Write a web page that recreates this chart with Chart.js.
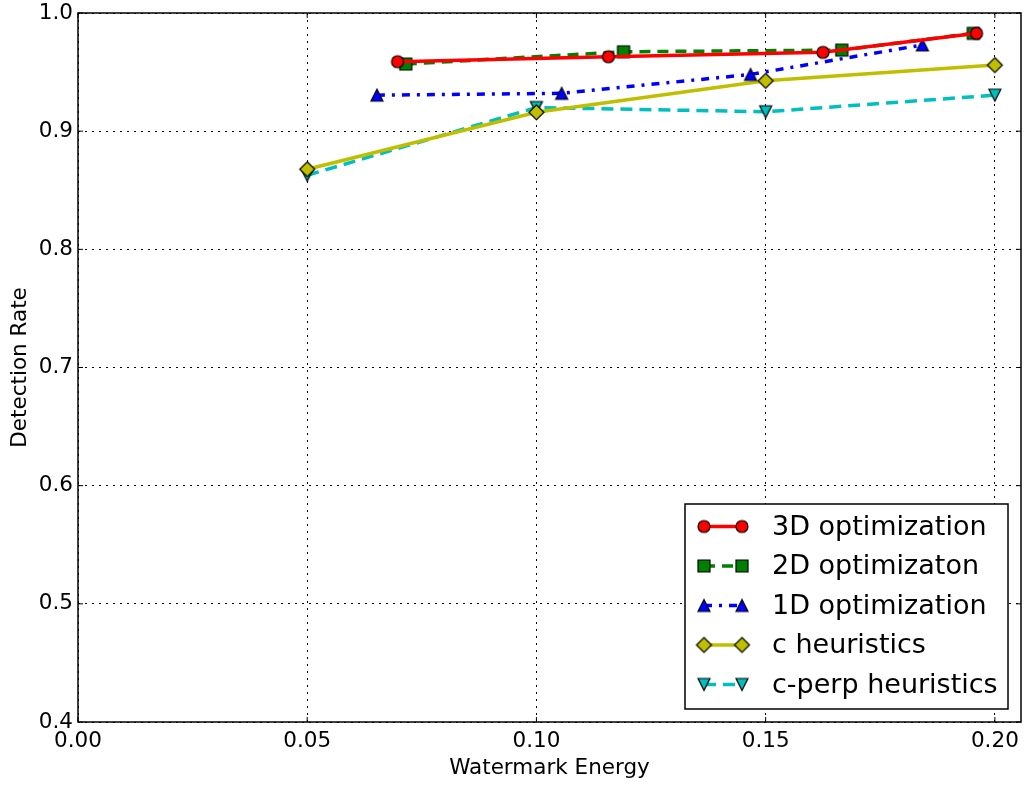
<!DOCTYPE html>
<html>
<head>
<meta charset="utf-8">
<title>Detection Rate vs Watermark Energy</title>
<script src="https://cdn.jsdelivr.net/npm/chart.js@4/dist/chart.umd.min.js"></script>
<style>
  html, body { margin: 0; padding: 0; background: #fff; }
  canvas { display: block; }
</style>
</head>
<body>
<canvas id="detectionChart" width="1027" height="785"></canvas>
<script>
// values
const energy3D = [0.0697, 0.1157, 0.1625, 0.1960];
const rate3D   = [0.9588, 0.9630, 0.9667, 0.9828];
const energy2D = [0.0715, 0.1190, 0.1666, 0.1953];
const rate2D   = [0.9568, 0.9672, 0.9686, 0.9828];
const energy1D = [0.0652, 0.1055, 0.1467, 0.1842];
const rate1D   = [0.9305, 0.9320, 0.9480, 0.9730];
const energyC  = [0.05, 0.10, 0.15, 0.20];
const rateC    = [0.8678, 0.9160, 0.9426, 0.9559];
const energyCP = [0.05, 0.10, 0.15, 0.20];
const rateCP   = [0.8627, 0.9200, 0.9164, 0.9305];

const seriesNames = ["3D optimization", "2D optimizaton", "1D optimization", "c heuristics", "c-perp heuristics"];
const xTicks = [0, 0.05, 0.10, 0.15, 0.20];
const yTicks = [0.4, 0.5, 0.6, 0.7, 0.8, 0.9, 1.0];

function pairs(xs, ys) {
  return xs.map(function (x, i) { return { x: x, y: ys[i] }; });
}

// matplotlib-like marker sprites
function makeMarker(shape, fill, size) {
  const c = document.createElement("canvas");
  c.width = size + 4;
  c.height = size + 4;
  const g = c.getContext("2d");
  const m = c.width / 2, h = size / 2;
  g.beginPath();
  if (shape === "circle") {
    g.arc(m, m, h, 0, Math.PI * 2);
  } else if (shape === "square") {
    g.rect(m - h, m - h, size, size);
  } else if (shape === "up") {
    g.moveTo(m, m - h); g.lineTo(m + h, m + h); g.lineTo(m - h, m + h); g.closePath();
  } else if (shape === "down") {
    g.moveTo(m, m + h); g.lineTo(m + h, m - h); g.lineTo(m - h, m - h); g.closePath();
  } else if (shape === "diamond") {
    g.moveTo(m, m - h); g.lineTo(m + h, m); g.lineTo(m, m + h); g.lineTo(m - h, m); g.closePath();
  }
  g.fillStyle = fill;
  g.fill();
  g.lineWidth = 1.2;
  g.strokeStyle = "#000";
  g.stroke();
  return c;
}

const markers = [
  makeMarker("circle", "#ff0000", 12),
  makeMarker("square", "#008000", 12),
  makeMarker("up", "#0000ff", 12),
  makeMarker("diamond", "#bfbf00", 15),
  makeMarker("down", "#00bfbf", 12)
];

// frame, inward ticks and the legend box
const framePlugin = {
  id: "frame",
  afterDraw: function (chart) {
    const c = chart.ctx;
    const a = chart.chartArea;
    const xs = chart.scales.x, ys = chart.scales.y;
    c.save();
    c.strokeStyle = "#000";
    c.lineWidth = 1;
    c.setLineDash([]);
    c.beginPath();
    xTicks.forEach(function (v) {
      const px = xs.getPixelForValue(v);
      c.moveTo(px, a.bottom); c.lineTo(px, a.bottom - 5);
      c.moveTo(px, a.top); c.lineTo(px, a.top + 5);
    });
    yTicks.forEach(function (v) {
      const py = ys.getPixelForValue(v);
      c.moveTo(a.left, py); c.lineTo(a.left + 5, py);
      c.moveTo(a.right, py); c.lineTo(a.right - 5, py);
    });
    c.stroke();
    c.lineWidth = 1.5;
    c.strokeRect(a.left, a.top, a.right - a.left, a.bottom - a.top);

    // legend
    const bw = 323, bh = 205;
    const bx = a.right - 13 - bw, by = a.bottom - 13 - bh;
    c.fillStyle = "#fff";
    c.fillRect(bx, by, bw, bh);
    c.lineWidth = 1.5;
    c.strokeRect(bx, by, bw, bh);
    c.font = "27px 'DejaVu Sans'";
    c.textBaseline = "middle";
    c.textAlign = "left";
    chart.data.datasets.forEach(function (ds, i) {
      const ry = by + 22.5 + i * 39.5;
      const x1 = bx + 19, x2 = bx + 57;
      c.beginPath();
      c.strokeStyle = ds.borderColor;
      c.lineWidth = ds.borderWidth;
      c.setLineDash(ds.borderDash || []);
      c.moveTo(x1, ry); c.lineTo(x2, ry);
      c.stroke();
      c.setLineDash([]);
      const img = markers[i];
      c.drawImage(img, x1 - img.width / 2, ry - img.height / 2);
      c.drawImage(img, x2 - img.width / 2, ry - img.height / 2);
      c.fillStyle = "#000";
      c.fillText(ds.label, bx + 87, ry + 1);
    });
    c.restore();
  }
};

document.addEventListener("DOMContentLoaded", function () {
  const ctx = document.getElementById("detectionChart");

  const lineSet = function (i, xs, ys, color, dash) {
    return {
      label: seriesNames[i],
      data: pairs(xs, ys),
      borderColor: color,
      backgroundColor: color,
      borderWidth: 3.5,
      borderDash: dash,
      borderCapStyle: "butt",
      pointStyle: markers[i],
      pointRadius: 6,
      fill: false,
      tension: 0
    };
  };

  new Chart(ctx, {
    type: "line",
    data: {
      datasets: [
        lineSet(0, energy3D, rate3D, "#ff0000", []),
        lineSet(1, energy2D, rate2D, "#008000", [11, 7]),
        lineSet(2, energy1D, rate1D, "#0000ff", [8, 7, 3, 7]),
        lineSet(3, energyC, rateC, "#bfbf00", []),
        lineSet(4, energyCP, rateCP, "#00bfbf", [12, 7])
      ]
    },
    options: {
      responsive: false,
      animation: false,
      devicePixelRatio: 1,
      layout: { autoPadding: false, padding: { top: 13, right: 6, left: 0, bottom: 0 } },
      plugins: {
        legend: { display: false },
        tooltip: { enabled: false }
      },
      scales: {
        x: {
          type: "linear",
          min: 0,
          max: 0.2057,
          afterBuildTicks: function (s) { s.ticks = xTicks.map(function (v) { return { value: v }; }); },
          afterFit: function (s) { s.height = 63; s.paddingLeft = 0; s.paddingRight = 0; },
          grid: { color: "#000", lineWidth: 1, drawTicks: false },
          border: { display: false, dash: [2, 5] },
          ticks: {
            color: "#000",
            padding: 7,
            maxRotation: 0,
            font: { family: "DejaVu Sans", size: 21.5 },
            callback: function (v) { return Number(v).toFixed(2); }
          },
          title: {
            display: true,
            text: "Watermark Energy",
            color: "#000",
            font: { family: "DejaVu Sans", size: 21.5 },
            padding: { top: 0, bottom: 4 }
          }
        },
        y: {
          type: "linear",
          min: 0.4,
          max: 1.0,
          afterBuildTicks: function (s) { s.ticks = yTicks.map(function (v) { return { value: v }; }); },
          afterFit: function (s) { s.width = 78; s.paddingTop = 0; s.paddingBottom = 0; },
          grid: { color: "#000", lineWidth: 1, drawTicks: false },
          border: { display: false, dash: [2, 5] },
          ticks: {
            color: "#000",
            padding: 5,
            font: { family: "DejaVu Sans", size: 21.5 },
            callback: function (v) { return Number(v).toFixed(1); }
          },
          title: {
            display: true,
            text: "Detection Rate",
            color: "#000",
            font: { family: "DejaVu Sans", size: 21.5 },
            padding: { top: 8, bottom: 0 }
          }
        }
      }
    },
    plugins: [framePlugin]
  });
});
</script>
</body>
</html>
